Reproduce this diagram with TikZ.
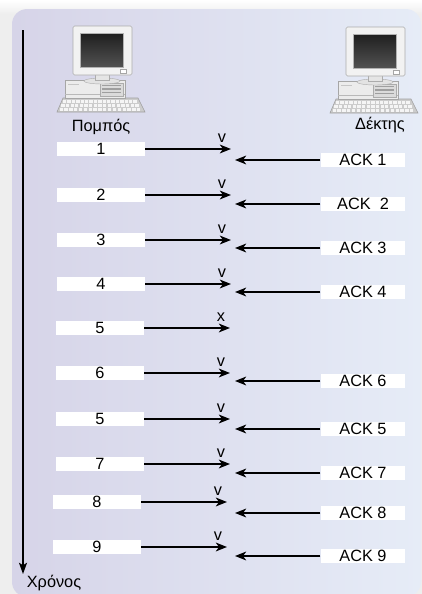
\documentclass[tikz,border=0pt]{standalone}
\usepackage{fontspec}
\setmainfont{Liberation Sans}
\usepackage{tikz}
\usetikzlibrary{positioning,shapes,arrows.meta}
\definecolor{outerbg}{RGB}{238,238,238}
\definecolor{panelleft}{RGB}{214,212,232}
\definecolor{panelright}{RGB}{230,236,247}
\tikzstyle{frame}=[rectangle, fill=white, minimum width=2.2cm, minimum height=0.36cm,
        inner sep=0pt, text centered]
\tikzstyle{ackbox}=[rectangle, fill=white, minimum width=2.12cm, minimum height=0.36cm,
        inner sep=0pt, text centered]
\tikzstyle{myarrow}=[-{Stealth[length=0.28cm, width=0.22cm, inset=0.08cm]}, line width=1pt]
\tikzstyle{timeline}=[-{Stealth[length=0.28cm, width=0.2cm, inset=0.06cm]}, line width=1.1pt]

% little desktop computer, origin at the top left corner of the monitor
\tikzset{
  pics/computer/.style={code={
    % keyboard
    \filldraw[fill=gray!40, draw=gray!75, line width=0.4pt] (-10,72) -- (65,72) -- (72,86) -- (-16,86) -- cycle;
    \foreach \r in {0,1,2}
      \foreach \k in {0,...,16}
        \fill[gray!8] ({-10-1.7*\r+\k*(4.4+0.22*\r)}, {74+4*\r}) rectangle ++(3.3,2.6);
    % system unit
    \filldraw[fill=gray!15, draw=gray!70, line width=0.4pt] (-8,54) rectangle (52,72);
    \draw[gray!55, line width=0.3pt] (-8,68.5) -- (52,68.5);
    \fill[gray!45] (-5,58) rectangle (6,59);
    \filldraw[fill=gray!28, draw=gray!65, line width=0.3pt] (27,57) rectangle (50,70);
    \foreach \slot in {58.5,62,65.5}
      \fill[gray!75] (29,\slot) rectangle (48,\slot+1.6);
    % stand
    \filldraw[fill=gray!22, draw=gray!65, line width=0.3pt] (29,55) ellipse (18 and 3);
    \filldraw[fill=gray!20, draw=gray!65, line width=0.3pt] (22,48) rectangle (36,54);
    % monitor
    \filldraw[fill=gray!10, draw=gray!65, line width=0.4pt, rounded corners=1pt] (0,0) rectangle (59,49);
    \shade[top color=black!88, bottom color=black!68, draw=gray!60] (7,7) rectangle (50,41);
    \filldraw[fill=white, draw=gray!70, line width=0.3pt] (47,43) rectangle (53,47);
  }}
}

\begin{document}
\begin{tikzpicture}[x=0.025cm, y=-0.025cm, font=\fontsize{11.6}{13}\selectfont]
    \useasboundingbox (0,0) rectangle (422,594);
    \fill[outerbg] (0,0) rectangle (422,594);
    \shade[top color=white, bottom color=outerbg] (0,0) rectangle (422,14);
    \shade[left color=panelleft, right color=panelright, rounded corners=0.38cm] (12,9) rectangle (421,597);

    % sender and receiver
    \pic at (73,26) {computer};
    \pic at (346,27) {computer};
    \node (Sender) at (101,127) {Πομπός};
    \node (Receiver) at (380,125) {Δέκτης};

    % time axis
    \coordinate (TimeTop) at (23,30);
    \coordinate (TimeEnd) at (23,574);
    \draw[timeline] (TimeTop) -- (TimeEnd);
    \node (Time) at (54,583) {Χρόνος};

    % frames sent
    \foreach \n/\lab/\fx/\fy/\mark in {1/1/101/149/v, 2/2/101/195/v, 3/3/101/240/v, 4/4/101/284/v,
            5/5/100/328/x, 6/6/100/373/v, 7/5/100/419/v, 8/7/100/464/v, 9/8/97/502/v, 10/9/97/547/v}
    {
        \node (Frame\n) [frame] at (\fx,\fy) {\lab};
        \coordinate (Tip\n) at (\fx+130,\fy);
        \draw[myarrow] (Frame\n.east) -- (Tip\n);
        \node (Mark\n) [anchor=base, inner sep=0pt] at (\fx+121,\fy-7) {\mark};
    }

    % acknowledgements
    \foreach \n/\lab/\ay in {1/ACK 1/160, 2/ACK~~2/204, 3/ACK 3/248, 4/ACK 4/292, 6/ACK 6/381,
            7/ACK 5/429, 8/ACK 7/473, 9/ACK 8/513, 10/ACK 9/556}
    {
        \node (Ack\n) [ackbox] at (363,\ay) {\lab};
        \coordinate (AckTip\n) at (235,\ay);
        \draw[myarrow] (Ack\n.west) -- (AckTip\n);
    }
\end{tikzpicture}
\end{document}
